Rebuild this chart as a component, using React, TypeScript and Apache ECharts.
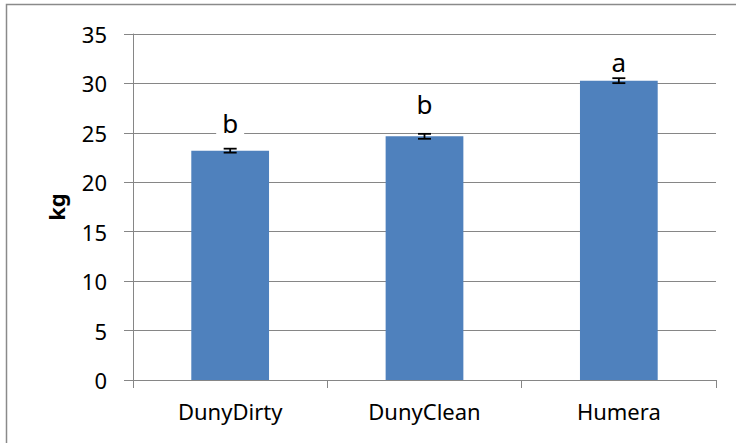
import React, { useEffect, useRef } from "react";
import * as echarts from "echarts";

const categories = ["DunyDirty", "DunyClean", "Humera"];
const values = [23.2, 24.65, 30.28];
const errors = [0.2, 0.25, 0.25];
const letters = ["b", "b", "a"];
const yTicks = { min: 0, max: 35, interval: 5 };
const yAxisName = "kg";

const labelGaps = [15, 19, 6];
const FONT = "'Noto Sans', sans-serif";
const GRAY = "#868686";

export default function App() {
  const ref = useRef<HTMLDivElement>(null);
  useEffect(() => {
    if (!ref.current) return;
    const chart = echarts.init(ref.current, undefined, { renderer: "svg" });
    chart.setOption({
      animation: false,
      backgroundColor: "#ffffff",
      graphic: [
        {
          type: "rect",
          shape: { x: 6.5, y: 4.5, width: 760, height: 460 },
          style: { fill: "none", stroke: "#8a8a8a", lineWidth: 1.5 },
          silent: true,
          z: 100,
        },
      ],
      grid: { left: 133, right: 20, top: 34, bottom: 63, containLabel: false },
      xAxis: {
        type: "category",
        data: categories,
        boundaryGap: true,
        axisLine: { show: true, lineStyle: { color: GRAY, width: 1 } },
        axisTick: { show: true, length: 8, inside: false, alignWithLabel: false, interval: 0, lineStyle: { color: GRAY } },
        axisLabel: { color: "#000", fontFamily: FONT, fontSize: 22, margin: 20, interval: 0 },
        splitLine: { show: false },
      },
      yAxis: {
        type: "value",
        min: yTicks.min,
        max: yTicks.max,
        interval: yTicks.interval,
        name: yAxisName,
        nameLocation: "middle",
        nameGap: 66,
        nameTextStyle: { color: "#000", fontFamily: FONT, fontSize: 22, fontWeight: "bold" },
        axisLine: { show: true, lineStyle: { color: GRAY, width: 1 } },
        axisTick: { show: true, length: 9, inside: false, lineStyle: { color: GRAY } },
        axisLabel: { color: "#000", fontFamily: FONT, fontSize: 22, margin: 26 },
        splitLine: { show: true, lineStyle: { color: GRAY, width: 1 } },
      },
      series: [
        {
          type: "bar",
          barWidth: "40%",
          itemStyle: { color: "#4F81BD" },
          data: values.map((v, i) => ({
            value: v,
            label: { distance: labelGaps[i], formatter: letters[i] },
          })),
          label: {
            show: true,
            position: "top",
            color: "#000",
            fontFamily: FONT,
            fontSize: 26,
            backgroundColor: "#ffffff",
            padding: [0, 6, 0, 6],
          },
          z: 2,
        },
        {
          type: "custom",
          data: values.map((v, i) => [i, v - errors[i], v + errors[i]]),
          renderItem: (params: any, api: any) => {
            const x = api.value(0);
            const lo = api.coord([x, api.value(1)]);
            const hi = api.coord([x, api.value(2)]);
            const half = 6.5;
            const style = { stroke: "#000", lineWidth: 1.8 };
            return {
              type: "group",
              children: [
                { type: "line", shape: { x1: lo[0], y1: lo[1], x2: hi[0], y2: hi[1] }, style },
                { type: "line", shape: { x1: lo[0] - half, y1: lo[1], x2: lo[0] + half, y2: lo[1] }, style },
                { type: "line", shape: { x1: hi[0] - half, y1: hi[1], x2: hi[0] + half, y2: hi[1] }, style },
              ],
            };
          },
          z: 5,
        },
      ],
    });
    return () => chart.dispose();
  }, []);
  return (
    <div
      ref={ref}
      style={{ position: "fixed", left: 0, top: 0, width: 736, height: 443 }}
    />
  );
}
